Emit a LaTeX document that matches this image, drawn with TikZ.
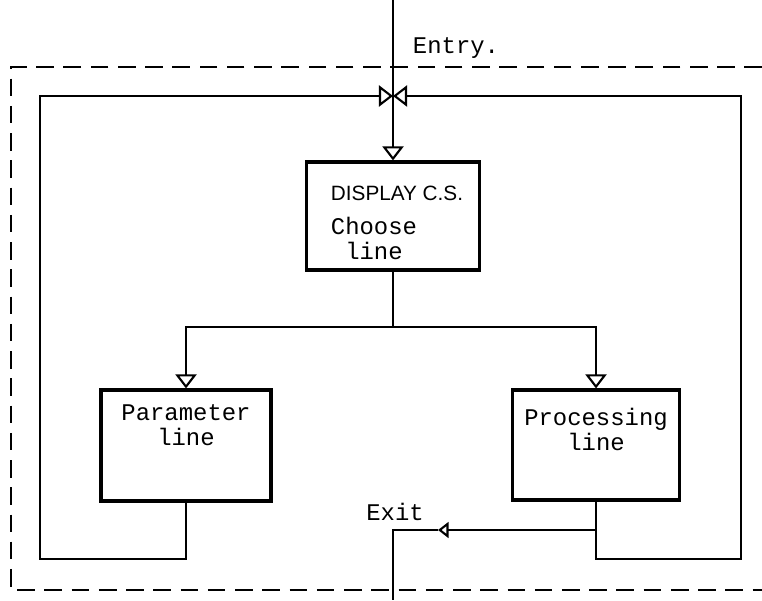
\documentclass[tikz,border=0pt]{standalone}
\usepackage{fontspec}
\setmonofont{Liberation Mono}
\setsansfont{Liberation Sans}
\usetikzlibrary{arrows.meta}
\begin{document}
\begin{tikzpicture}[x=0.2mm,y=-0.2mm,
  wire/.style={line width=1.6pt},
  tip/.style={-{Triangle[open,length=8pt,width=12pt,line width=1.2pt]}},
  box/.style={draw,line width=1.8pt,inner sep=0pt},
  txt/.style={font=\fontsize{13.6}{14.5}\ttfamily,align=center,inner sep=0pt}]
  \useasboundingbox (0,0) rectangle (762,600);
  % dashed frame
  \draw[line width=1.2pt,dash pattern=on 10pt off 5.5pt] (762,67) -- (11,67) -- (11,590) -- (762,590);
  % boxes
  \node[box,minimum width=34.6mm,minimum height=21.6mm] (disp) at (393,216) {};
  \node[txt,align=left] (disptxt) at (397,223)
    {{\sffamily\fontsize{11.8}{13}\selectfont DISPLAY C.S.}\\[5pt]Choose\\\hphantom{C}line};
  \node[box,minimum width=34mm,minimum height=22.2mm] (par) at (186,445.5) {};
  \node[txt,anchor=north] (partxt) at ([yshift=-9pt]par.north) {Parameter\\line};
  \node[box,minimum width=33.4mm,minimum height=22mm] (proc) at (596,445) {};
  \node[txt,anchor=north] (proctxt) at ([yshift=-11pt]proc.north) {Processing\\line};
  \node[txt] (entry) at (456,48) {Entry.};
  \node[txt] (exit) at (395,512) {Exit};
  % corners of the wiring
  \coordinate (top) at (393,0);    \coordinate (join) at (393,96);
  \coordinate (tl) at (40,96);     \coordinate (tr) at (741,96);
  \coordinate (bl) at (40,559);    \coordinate (br) at (741,559);
  \coordinate (split) at (393,327);
  \coordinate (pl) at (186,327);   \coordinate (pr) at (596,327);
  \coordinate (pb) at (186,559);   \coordinate (qb) at (596,559);
  \coordinate (qx) at (596,530);   \coordinate (xa) at (438,530);
  \coordinate (xc) at (393,530);   \coordinate (bottom) at (393,600);
  % entry and branches
  \draw[wire] (top) -- (join);
  \draw[wire,tip] (join) -- (disp.north);
  \draw[wire] (disp.south) -- (split);
  \draw[wire,tip] (split) -- (pl) -- (par.north);
  \draw[wire,tip] (split) -- (pr) -- (proc.north);
  % return loops
  \draw[wire,tip] (par.south) -- (pb) -- (bl) -- (tl) -- (join);
  \draw[wire,tip] (proc.south) -- (qb) -- (br) -- (tr) -- (join);
  % exit
  \draw[wire,-{Triangle[open,length=6pt,width=9pt,line width=1.2pt]}] (qx) -- (xa);
  \draw[wire] (xa) -- (xc) -- (bottom);
\end{tikzpicture}
\end{document}
